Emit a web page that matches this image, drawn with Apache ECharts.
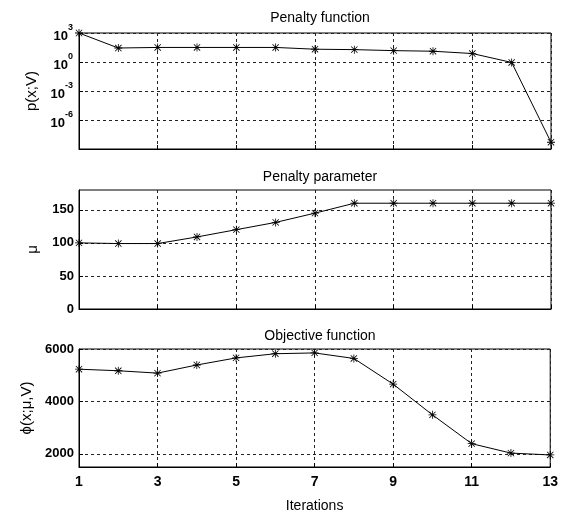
<!DOCTYPE html>
<html>
<head>
<meta charset="utf-8">
<script src="https://cdn.jsdelivr.net/npm/echarts@6/dist/echarts.min.js"></script>
<style>
html,body{margin:0;padding:0;background:#fff;}
#c{width:561px;height:516px;}
</style>
</head>
<body>
<div id="c"></div>
<script>
// ---- data ----
const iterations = [1,2,3,4,5,6,7,8,9,10,11,12,13];
const penaltyFunction = [1000, 28, 32, 32, 32, 32, 21, 19, 15, 13, 7.5, 0.9, 5e-9];
const penaltyParameter = [100, 99, 99, 109, 120, 131, 145, 160, 160, 160, 160, 160, 160];
const objectiveFunction = [5230, 5170, 5080, 5390, 5660, 5820, 5850, 5640, 4660, 3490, 2390, 2030, 1960];
const xTicks = [1,3,5,7,9,11,13];
const muTicks = [0,50,100,150];
const phiTicks = [2000,4000,6000];
const titles = ['Penalty function','Penalty parameter','Objective function'];
const yNames = ['p(x;V)','\u03bc','\u03d5(x;\u03bc,V)'];

const FONT = '"Liberation Sans", Arial, sans-serif';
const star = 'path://M4.5 0H5.5V10H4.5Z M0 4.5H10V5.5H0Z M0.7 1.4L1.4 0.7L9.3 8.6L8.6 9.3Z M8.6 0.7L9.3 1.4L1.4 9.3L0.7 8.6Z';

const grids = [
  {left:79, right:10, top:33, height:116},
  {left:79, right:10, top:190, height:119},
  {left:79, right:10, top:349, height:118}
].map(g => Object.assign({show:true, borderColor:'#000', borderWidth:1, backgroundColor:'#fff'}, g));

const split = {show:true, lineStyle:{color:'#222', type:[3,3], width:1}};
const tickLabel = {color:'#000', fontFamily:FONT, fontSize:13, fontWeight:'bold'};
function xAxis(i, showLabels){
  return {
    type:'value', gridIndex:i, min:1, max:13, interval:2,
    axisLine:{show:true, onZero:false, lineStyle:{color:'#000'}},
    axisTick:{show:true, inside:true, length:4, customValues:xTicks, lineStyle:{color:'#000'}},
    axisLabel:Object.assign({show:showLabels, margin:8, customValues:xTicks}, tickLabel, {fontSize:14}),
    splitLine:split,
    name: showLabels ? 'Iterations' : '',
    nameLocation:'middle', nameGap:32,
    nameTextStyle:{color:'#000', fontFamily:FONT, fontSize:14}
  };
}
const nameStyle = {color:'#000', fontFamily:FONT, fontSize:15};
const yAxes = [
  {
    type:'log', logBase:1000, gridIndex:0, min:1e-9, max:1e3,
    axisLine:{show:true, lineStyle:{color:'#000'}},
    axisTick:{show:true, inside:true, length:4, lineStyle:{color:'#000'}},
    minorTick:{show:false},
    axisLabel:{
      color:'#000', fontFamily:FONT, showMinLabel:false, margin:6,
      formatter: v => '{b|10}{s|' + Math.round(Math.log10(v)) + '}',
      rich:{
        b:{fontSize:13, fontWeight:'bold', fontFamily:FONT, color:'#000', verticalAlign:'bottom', lineHeight:19},
        s:{fontSize:9, fontWeight:'bold', fontFamily:FONT, color:'#000', verticalAlign:'top', lineHeight:19}
      }
    },
    splitLine:split,
    name:yNames[0], nameLocation:'middle', nameGap:35, nameTextStyle:nameStyle
  },
  {
    type:'value', gridIndex:1, min:0, max:180, interval:50,
    axisLine:{show:true, lineStyle:{color:'#000'}},
    axisTick:{show:true, inside:true, length:4, customValues:muTicks, lineStyle:{color:'#000'}},
    axisLabel:Object.assign({margin:5, customValues:muTicks}, tickLabel),
    splitLine:split,
    name:yNames[1], nameLocation:'middle', nameGap:39, nameTextStyle:nameStyle
  },
  {
    type:'value', gridIndex:2, min:1500, max:6000,
    axisLine:{show:true, lineStyle:{color:'#000'}},
    axisTick:{show:true, inside:true, length:4, customValues:phiTicks, lineStyle:{color:'#000'}},
    axisLabel:Object.assign({margin:5, customValues:phiTicks, formatter: v => String(v)}, tickLabel),
    splitLine:split,
    name:yNames[2], nameLocation:'middle', nameGap:37, nameTextStyle:nameStyle
  }
];

function series(i, vals){
  return {
    type:'line', xAxisIndex:i, yAxisIndex:i,
    data: iterations.map((x,k)=>[x, vals[k]]),
    symbol:star, symbolSize:8, showSymbol:true,
    itemStyle:{color:'#000'},
    lineStyle:{color:'#000', width:1},
    animation:false, clip:false
  };
}

const chart = echarts.init(document.getElementById('c'), null, {renderer:'canvas'});
chart.setOption({
  backgroundColor:'#fff',
  animation:false,
  title: titles.map((t,i)=>({
    text:t, left:315, textAlign:'center', top:[6,165,324][i],
    textStyle:{color:'#000', fontFamily:FONT, fontSize:14, fontWeight:'normal'}
  })),
  grid:grids,
  xAxis:[xAxis(0,false), xAxis(1,false), xAxis(2,true)],
  yAxis:yAxes,
  series:[series(0, penaltyFunction), series(1, penaltyParameter), series(2, objectiveFunction)]
});
</script>
</body>
</html>
